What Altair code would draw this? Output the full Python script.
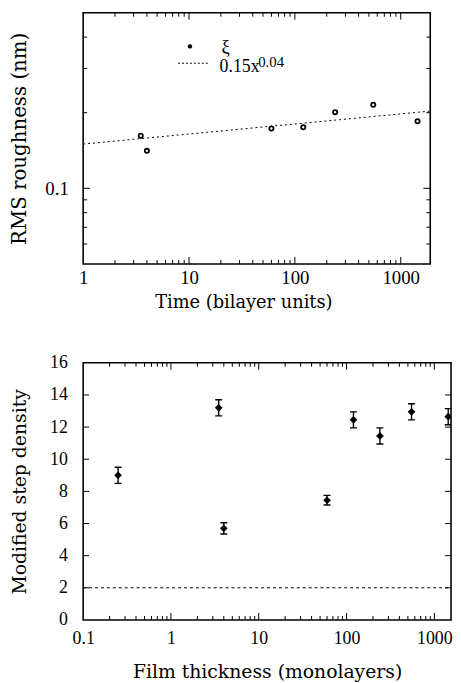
import altair as alt
import pandas as pd

# ---------------- data ----------------
# top panel: RMS roughness vs time
time_top = [3.5, 4, 60, 120, 240, 550, 1440]
rms_top = [0.162, 0.141, 0.173, 0.175, 0.201, 0.215, 0.185]
fit_x = [1, 1900]
fit_y = [0.150, 0.203]

# bottom panel: modified step density vs film thickness
thick_bot = [0.25, 3.5, 4, 60, 120, 240, 550, 1440]
density_bot = [9.0, 13.2, 5.7, 7.45, 12.45, 11.45, 12.95, 12.65]
density_err = [0.5, 0.5, 0.35, 0.3, 0.5, 0.5, 0.5, 0.5]
ref_x = [0.1, 1550]
ref_y = [2, 2]

top_x_labels = [1, 10, 100, 1000]
top_y_labels = [0.1]
bot_x_labels = [0.1, 1, 10, 100, 1000]
bot_y_labels = [0, 2, 4, 6, 8, 10, 12, 14, 16]

FONT = "Liberation Serif"
TFONT = "DejaVu Serif"

# ---------------- helpers ----------------
def minor_log(lo, hi):
    out = []
    d = 1e-3
    while d < 1e5:
        for m in range(2, 10):
            v = round(m * d, 6)
            if lo < v < hi:
                out.append(v)
        d *= 10
    return out


def xticks(values, scale, axis, H, length):
    df = pd.DataFrame({"x": values})
    base = alt.Chart(df).mark_rule(color="black", strokeWidth=1, clip=True)
    bot = base.encode(x=alt.X("x:Q", scale=scale, axis=axis),
                      y=alt.value(H), y2=alt.value(H - length))
    top = base.encode(x=alt.X("x:Q", scale=scale, axis=axis),
                      y=alt.value(0), y2=alt.value(length))
    return [bot, top]


def yticks(values, scale, axis, W, length):
    df = pd.DataFrame({"y": values})
    base = alt.Chart(df).mark_rule(color="black", strokeWidth=1, clip=True)
    left = base.encode(y=alt.Y("y:Q", scale=scale, axis=axis),
                       x=alt.value(0), x2=alt.value(length))
    right = base.encode(y=alt.Y("y:Q", scale=scale, axis=axis),
                        x=alt.value(W), x2=alt.value(W - length))
    return [left, right]


# ---------------- top panel ----------------
W1, H1 = 351, 254
xs1 = alt.Scale(type="log", domain=[1, 1900], nice=False)
ys1 = alt.Scale(type="log", domain=[0.05, 0.5], nice=False)
xa1 = alt.Axis(
    title="Time (bilayer units)", values=top_x_labels, format="~g",
    ticks=False, domain=False, grid=False, labelFont=FONT, labelFontSize=19,
    labelPadding=5, titleFont=TFONT, titleFontSize=18, titleFontWeight="normal",
    titlePadding=6, titleX=162, labelColor="black", titleColor="black", labelFlush=False)
ya1 = alt.Axis(
    title="RMS roughness (nm)", values=top_y_labels, format="~g",
    ticks=False, domain=False, grid=False, labelFont=FONT, labelFontSize=19,
    labelPadding=15, titleFont=TFONT, titleFontSize=20, titleFontWeight="normal",
    titlePadding=16, labelColor="black", titleColor="black")

df_top = pd.DataFrame({"x": time_top, "y": rms_top})
df_fit = pd.DataFrame({"x": fit_x, "y": fit_y})

pts1 = alt.Chart(df_top).mark_point(
    shape="circle", filled=False, color="black", size=18, strokeWidth=1.8, opacity=1
).encode(
    x=alt.X("x:Q", scale=xs1, axis=xa1),
    y=alt.Y("y:Q", scale=ys1, axis=ya1),
)

fit1 = alt.Chart(df_fit).mark_line(
    color="black", strokeWidth=1, strokeDash=[2, 3], clip=True
).encode(x=alt.X("x:Q", scale=xs1, axis=xa1),
         y=alt.Y("y:Q", scale=ys1, axis=ya1))

# legend (annotation)
one = pd.DataFrame({"a": [0]})
leg_dot = alt.Chart(one).mark_point(
    shape="circle", filled=True, color="black", size=20, opacity=1
).encode(x=alt.value(108), y=alt.value(34))
leg_xi = alt.Chart(one).mark_text(
    text="ξ", font=FONT, fontSize=19, align="left", baseline="middle", color="black"
).encode(x=alt.value(140), y=alt.value(35))
leg_line = alt.Chart(one).mark_rule(
    color="black", strokeWidth=1, strokeDash=[2, 2]
).encode(x=alt.value(96), x2=alt.value(126), y=alt.value(51))
leg_txt = alt.Chart(one).mark_text(
    text="0.15x", font=FONT, fontSize=18, align="left", baseline="alphabetic", color="black"
).encode(x=alt.value(138), y=alt.value(60))
leg_sup = alt.Chart(one).mark_text(
    text="0.04", font=FONT, fontSize=15, align="left", baseline="alphabetic", color="black"
).encode(x=alt.value(177), y=alt.value(55))

top_layers = [fit1, pts1]
top_layers += xticks([10, 100, 1000], xs1, xa1, H1, 7)
top_layers += xticks(minor_log(1, 1900), xs1, xa1, H1, 4)
top_layers += yticks([0.1], ys1, ya1, W1, 7)
top_layers += yticks([0.06, 0.07, 0.08, 0.09, 0.2, 0.3, 0.4], ys1, ya1, W1, 4)
top_layers += [leg_dot, leg_xi, leg_line, leg_txt, leg_sup]

top = alt.layer(*top_layers).properties(width=W1, height=H1)

# ---------------- bottom panel ----------------
W2, H2 = 372, 260
xs2 = alt.Scale(type="log", domain=[0.1, 1550], nice=False)
ys2 = alt.Scale(type="linear", domain=[0, 16], nice=False)
xa2 = alt.Axis(
    title="Film thickness (monolayers)", values=bot_x_labels, format="~g",
    ticks=False, domain=False, grid=False, labelFont=FONT, labelFontSize=18,
    labelPadding=10, titleFont=TFONT, titleFontSize=19, titleFontWeight="normal",
    titlePadding=15, labelColor="black", titleColor="black", labelFlush=False)
ya2 = alt.Axis(
    title="Modified step density", values=bot_y_labels,
    ticks=False, domain=False, grid=False, labelFont=FONT, labelFontSize=18,
    labelPadding=16, titleFont=TFONT, titleFontSize=19, titleFontWeight="normal",
    titlePadding=20, labelColor="black", titleColor="black")

df_bot = pd.DataFrame({
    "x": thick_bot, "y": density_bot,
    "lo": [v - e for v, e in zip(density_bot, density_err)],
    "hi": [v + e for v, e in zip(density_bot, density_err)],
})
df_ref = pd.DataFrame({"x": ref_x, "y": ref_y})

pts2 = alt.Chart(df_bot).mark_point(
    shape="diamond", filled=True, color="black", size=60, opacity=1, clip=True
).encode(
    x=alt.X("x:Q", scale=xs2, axis=xa2),
    y=alt.Y("y:Q", scale=ys2, axis=ya2),
)

err2 = alt.Chart(df_bot).mark_rule(color="black", strokeWidth=1.4, clip=True).encode(
    x=alt.X("x:Q", scale=xs2, axis=xa2),
    y=alt.Y("lo:Q", scale=ys2, axis=ya2),
    y2="hi:Q",
)
cap_lo = alt.Chart(df_bot).mark_tick(color="black", thickness=1.4, size=7, orient="horizontal", clip=True, opacity=1).encode(
    x=alt.X("x:Q", scale=xs2, axis=xa2),
    y=alt.Y("lo:Q", scale=ys2, axis=ya2),
)
cap_hi = alt.Chart(df_bot).mark_tick(color="black", thickness=1.4, size=7, orient="horizontal", clip=True, opacity=1).encode(
    x=alt.X("x:Q", scale=xs2, axis=xa2),
    y=alt.Y("hi:Q", scale=ys2, axis=ya2),
)

ref2 = alt.Chart(df_ref).mark_line(
    color="black", strokeWidth=1, strokeDash=[3, 3], clip=True
).encode(x=alt.X("x:Q", scale=xs2, axis=xa2),
         y=alt.Y("y:Q", scale=ys2, axis=ya2))

bot_layers = [ref2, err2, cap_lo, cap_hi, pts2]
bot_layers += xticks([1, 10, 100, 1000], xs2, xa2, H2, 7)
bot_layers += xticks(minor_log(0.1, 1550), xs2, xa2, H2, 4)
bot_layers += yticks([2, 4, 6, 8, 10, 12, 14], ys2, ya2, W2, 6)

bottom = alt.layer(*bot_layers).properties(width=W2, height=H2)

chart = alt.concat(top, bottom, columns=1, spacing=41).properties(
    padding={"left": 0, "top": 0, "right": 0, "bottom": 0},
    background="white",
).configure_view(stroke="black", strokeWidth=1.6)

chart.save("out.html", embed_options={"renderer": "svg", "actions": False})
